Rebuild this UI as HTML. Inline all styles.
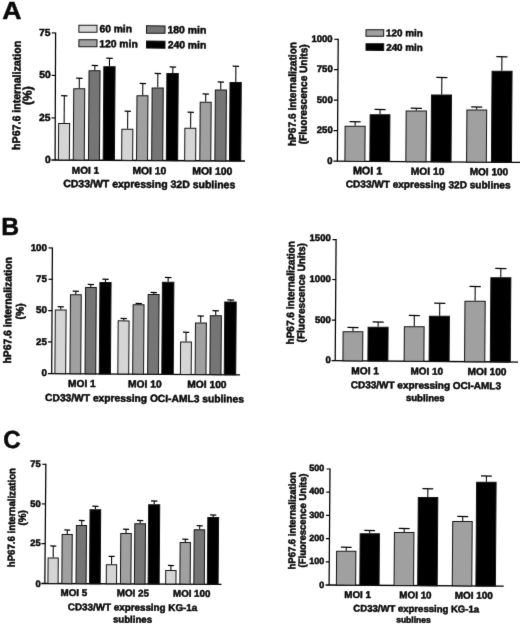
<!DOCTYPE html>
<html><head><meta charset="utf-8"><title>Figure</title>
<style>
html,body{margin:0;padding:0;background:#fff;}
body{width:520px;height:625px;overflow:hidden;}
svg{display:block;}
svg text{font-family:"Liberation Sans",Arial,Helvetica,sans-serif;font-weight:bold;fill:#0a0a0a;text-rendering:geometricPrecision;stroke:#0a0a0a;stroke-width:0.5px;}
</style></head><body>
<svg width="520" height="625" viewBox="0 0 520 625">
<defs><filter id="soft" color-interpolation-filters="sRGB" x="0" y="0" width="520" height="625" filterUnits="userSpaceOnUse"><feConvolveMatrix order="3" kernelMatrix="0.0064 0.0672 0.0064 0.0672 0.7056 0.0672 0.0064 0.0672 0.0064" divisor="1" edgeMode="duplicate" preserveAlpha="true"/></filter></defs>
<rect x="0" y="0" width="520" height="625" fill="#fff"/>
<g filter="url(#soft)">
<rect x="0" y="0" width="520" height="625" fill="#fff"/>
<text transform="translate(2.23,19.10) scale(1.075,1)" font-size="24.8">A</text>
<text transform="translate(1.29,235.20) scale(0.997,1)" font-size="24.8">B</text>
<text transform="translate(3.34,447.70) scale(0.973,1)" font-size="24.8">C</text>
<line x1="55.60" y1="32.40" x2="55.10" y2="160.30" stroke="#000" stroke-width="1.25"/>
<line x1="51.40" y1="159.98" x2="245.00" y2="161.00" stroke="#000" stroke-width="1.3"/>
<line x1="51.90" y1="32.97" x2="55.60" y2="33.00" stroke="#000" stroke-width="1.2"/>
<line x1="51.73" y1="75.47" x2="55.43" y2="75.50" stroke="#000" stroke-width="1.2"/>
<line x1="51.57" y1="117.97" x2="55.27" y2="118.00" stroke="#000" stroke-width="1.2"/>
<g transform="rotate(0.401 64.00 141.52)">
<line x1="64.00" y1="123.00" x2="64.00" y2="95.75" stroke="#000" stroke-width="1.05"/>
<line x1="60.82" y1="95.75" x2="67.18" y2="95.75" stroke="#000" stroke-width="1.25"/>
<rect x="58.50" y="123.50" width="11.00" height="36.55" fill="#d5d5d5" stroke="#141414" stroke-width="1"/>
</g>
<g transform="rotate(0.401 79.00 124.19)">
<line x1="79.00" y1="88.25" x2="79.00" y2="78.25" stroke="#000" stroke-width="1.05"/>
<line x1="75.82" y1="78.25" x2="82.18" y2="78.25" stroke="#000" stroke-width="1.25"/>
<rect x="73.50" y="88.75" width="11.00" height="71.38" fill="#a0a0a0" stroke="#141414" stroke-width="1"/>
</g>
<g transform="rotate(0.401 94.25 115.23)">
<line x1="94.50" y1="70.25" x2="94.50" y2="65.50" stroke="#000" stroke-width="1.05"/>
<line x1="91.32" y1="65.50" x2="97.68" y2="65.50" stroke="#000" stroke-width="1.25"/>
<rect x="88.75" y="70.75" width="11.00" height="89.46" fill="#757575" stroke="#141414" stroke-width="1"/>
</g>
<g transform="rotate(0.401 109.12 113.27)">
<line x1="109.12" y1="66.25" x2="109.12" y2="58.25" stroke="#000" stroke-width="1.05"/>
<line x1="105.88" y1="58.25" x2="112.37" y2="58.25" stroke="#000" stroke-width="1.25"/>
<rect x="103.50" y="66.75" width="11.25" height="93.53" fill="#000" stroke="#141414" stroke-width="1"/>
</g>
<g transform="rotate(0.401 127.25 144.56)">
<line x1="127.50" y1="128.75" x2="127.50" y2="111.25" stroke="#000" stroke-width="1.05"/>
<line x1="124.32" y1="111.25" x2="130.68" y2="111.25" stroke="#000" stroke-width="1.25"/>
<rect x="121.75" y="129.25" width="11.00" height="31.13" fill="#d5d5d5" stroke="#141414" stroke-width="1"/>
</g>
<g transform="rotate(0.401 142.25 127.85)">
<line x1="142.50" y1="95.25" x2="142.50" y2="83.50" stroke="#000" stroke-width="1.05"/>
<line x1="139.32" y1="83.50" x2="145.68" y2="83.50" stroke="#000" stroke-width="1.25"/>
<rect x="136.75" y="95.75" width="11.00" height="64.71" fill="#a0a0a0" stroke="#141414" stroke-width="1"/>
</g>
<g transform="rotate(0.401 157.45 124.02)">
<line x1="157.50" y1="87.50" x2="157.50" y2="73.50" stroke="#000" stroke-width="1.05"/>
<line x1="154.29" y1="73.50" x2="160.71" y2="73.50" stroke="#000" stroke-width="1.25"/>
<rect x="151.90" y="88.00" width="11.10" height="72.54" fill="#757575" stroke="#141414" stroke-width="1"/>
</g>
<g transform="rotate(0.401 172.27 116.81)">
<line x1="172.50" y1="73.00" x2="172.50" y2="67.00" stroke="#000" stroke-width="1.05"/>
<line x1="169.23" y1="67.00" x2="175.77" y2="67.00" stroke="#000" stroke-width="1.25"/>
<rect x="166.60" y="73.50" width="11.35" height="87.12" fill="#000" stroke="#141414" stroke-width="1"/>
</g>
<g transform="rotate(0.401 190.25 144.23)">
<line x1="190.50" y1="127.75" x2="190.50" y2="112.25" stroke="#000" stroke-width="1.05"/>
<line x1="187.32" y1="112.25" x2="193.68" y2="112.25" stroke="#000" stroke-width="1.25"/>
<rect x="184.75" y="128.25" width="11.00" height="32.46" fill="#d5d5d5" stroke="#141414" stroke-width="1"/>
</g>
<g transform="rotate(0.401 205.50 131.27)">
<line x1="205.50" y1="101.75" x2="205.50" y2="94.00" stroke="#000" stroke-width="1.05"/>
<line x1="202.32" y1="94.00" x2="208.68" y2="94.00" stroke="#000" stroke-width="1.25"/>
<rect x="200.00" y="102.25" width="11.00" height="58.54" fill="#a0a0a0" stroke="#141414" stroke-width="1"/>
</g>
<g transform="rotate(0.401 220.65 125.19)">
<line x1="220.50" y1="89.50" x2="220.50" y2="82.00" stroke="#000" stroke-width="1.05"/>
<line x1="217.29" y1="82.00" x2="223.71" y2="82.00" stroke="#000" stroke-width="1.25"/>
<rect x="215.10" y="90.00" width="11.10" height="70.87" fill="#757575" stroke="#141414" stroke-width="1"/>
</g>
<g transform="rotate(0.401 235.38 121.47)">
<line x1="235.50" y1="82.00" x2="235.50" y2="66.25" stroke="#000" stroke-width="1.05"/>
<line x1="232.25" y1="66.25" x2="238.75" y2="66.25" stroke="#000" stroke-width="1.25"/>
<rect x="229.75" y="82.50" width="11.25" height="78.45" fill="#000" stroke="#141414" stroke-width="1"/>
</g>
<text transform="translate(39.12,36.09) scale(1,1.0)" font-size="10.30">75</text>
<text transform="translate(39.23,78.39) scale(1,1.0)" font-size="10.30">50</text>
<text transform="translate(39.12,120.89) scale(1,1.0)" font-size="10.30">25</text>
<text transform="translate(44.94,163.19) scale(1,1.0)" font-size="10.30">0</text>
<text transform="rotate(0.401 17.40 95.35) translate(20.40,149.89) rotate(-90) scale(1,1.05)" font-size="10.61">hP67.6 internalization</text>
<text transform="rotate(0.401 28.60 95.65) translate(31.60,104.94) rotate(-90) scale(1,1.05)" font-size="11.99">(%)</text>
<text transform="rotate(0.401 85.62 170.75) translate(71.85,173.75) scale(1,1.0)" font-size="9.98">MOI 1</text>
<text transform="rotate(0.401 149.55 171.20) translate(132.43,174.20) scale(1,1.0)" font-size="10.35">MOI 10</text>
<text transform="rotate(0.401 212.50 171.64) translate(192.32,174.64) scale(1,1.0)" font-size="10.44">MOI 100</text>
<text transform="rotate(0.401 149.40 184.70) translate(63.18,187.70) scale(1,1.0)" font-size="10.51">CD33/WT expressing 32D sublines</text>
<rect x="78.90" y="25.30" width="18.10" height="7.00" fill="#d5d5d5" stroke="#141414" stroke-width="1" transform="rotate(0.401 87.95 28.80)"/>
<rect x="78.90" y="39.70" width="18.10" height="7.10" fill="#a0a0a0" stroke="#141414" stroke-width="1" transform="rotate(0.401 87.95 43.25)"/>
<rect x="146.50" y="25.90" width="18.50" height="7.40" fill="#757575" stroke="#141414" stroke-width="1" transform="rotate(0.401 155.75 29.60)"/>
<rect x="146.50" y="41.10" width="18.50" height="7.00" fill="#000" stroke="#141414" stroke-width="1" transform="rotate(0.401 155.75 44.60)"/>
<text transform="rotate(0.401 115.60 29.30) translate(99.44,32.30) scale(1,1.0)" font-size="10.29">60 min</text>
<text transform="rotate(0.401 118.50 44.30) translate(99.18,47.30) scale(1,1.0)" font-size="10.37">120 min</text>
<text transform="rotate(0.401 186.95 30.40) translate(167.58,33.40) scale(1,1.0)" font-size="10.40">180 min</text>
<text transform="rotate(0.401 186.85 45.40) translate(167.69,48.40) scale(1,1.0)" font-size="10.37">240 min</text>
<line x1="338.20" y1="38.70" x2="337.40" y2="161.60" stroke="#000" stroke-width="1.25"/>
<line x1="333.40" y1="161.22" x2="520.00" y2="162.40" stroke="#000" stroke-width="1.3"/>
<line x1="334.20" y1="39.27" x2="338.20" y2="39.30" stroke="#000" stroke-width="1.2"/>
<line x1="334.00" y1="69.67" x2="338.00" y2="69.70" stroke="#000" stroke-width="1.2"/>
<line x1="333.80" y1="100.17" x2="337.80" y2="100.20" stroke="#000" stroke-width="1.2"/>
<line x1="333.60" y1="130.67" x2="337.60" y2="130.70" stroke="#000" stroke-width="1.2"/>
<g transform="rotate(0.401 355.00 143.56)">
<line x1="355.00" y1="125.75" x2="355.00" y2="121.75" stroke="#000" stroke-width="1.05"/>
<line x1="349.44" y1="121.75" x2="360.56" y2="121.75" stroke="#000" stroke-width="1.25"/>
<rect x="345.00" y="126.25" width="20.00" height="35.11" fill="#a0a0a0" stroke="#141414" stroke-width="1"/>
</g>
<g transform="rotate(0.401 379.88 137.88)">
<line x1="379.88" y1="114.25" x2="379.88" y2="109.50" stroke="#000" stroke-width="1.05"/>
<line x1="374.38" y1="109.50" x2="385.37" y2="109.50" stroke="#000" stroke-width="1.25"/>
<rect x="370.00" y="114.75" width="19.75" height="46.77" fill="#000" stroke="#141414" stroke-width="1"/>
</g>
<g transform="rotate(0.401 416.12 136.12)">
<line x1="416.12" y1="110.50" x2="416.12" y2="108.25" stroke="#000" stroke-width="1.05"/>
<line x1="410.49" y1="108.25" x2="421.76" y2="108.25" stroke="#000" stroke-width="1.25"/>
<rect x="406.00" y="111.00" width="20.25" height="50.75" fill="#a0a0a0" stroke="#141414" stroke-width="1"/>
</g>
<g transform="rotate(0.401 441.25 128.20)">
<line x1="441.50" y1="94.50" x2="441.50" y2="77.50" stroke="#000" stroke-width="1.05"/>
<line x1="435.94" y1="77.50" x2="447.06" y2="77.50" stroke="#000" stroke-width="1.25"/>
<rect x="431.25" y="95.00" width="20.00" height="66.90" fill="#000" stroke="#141414" stroke-width="1"/>
</g>
<g transform="rotate(0.401 476.62 135.81)">
<line x1="476.50" y1="109.50" x2="476.50" y2="107.00" stroke="#000" stroke-width="1.05"/>
<line x1="471.00" y1="107.00" x2="482.00" y2="107.00" stroke="#000" stroke-width="1.25"/>
<rect x="466.75" y="110.00" width="19.75" height="52.13" fill="#a0a0a0" stroke="#141414" stroke-width="1"/>
</g>
<g transform="rotate(0.401 501.75 116.52)">
<line x1="501.50" y1="70.75" x2="501.50" y2="56.75" stroke="#000" stroke-width="1.05"/>
<line x1="495.94" y1="56.75" x2="507.06" y2="56.75" stroke="#000" stroke-width="1.25"/>
<rect x="491.75" y="71.25" width="20.00" height="91.04" fill="#000" stroke="#141414" stroke-width="1"/>
</g>
<text transform="translate(311.50,41.60) scale(1,1.0)" font-size="9.50">1000</text>
<text transform="translate(316.81,72.20) scale(1,1.0)" font-size="9.50">750</text>
<text transform="translate(316.81,102.70) scale(1,1.0)" font-size="9.50">500</text>
<text transform="translate(316.81,133.30) scale(1,1.0)" font-size="9.50">250</text>
<text transform="translate(327.36,163.80) scale(1,1.0)" font-size="9.50">0</text>
<text transform="rotate(0.401 293.00 93.85) translate(296.00,146.06) rotate(-90) scale(1,1.05)" font-size="10.15">hP67.6 internalization</text>
<text transform="rotate(0.401 303.90 94.20) translate(306.90,144.26) rotate(-90) scale(1,1.05)" font-size="10.12">(Fluorescence Units)</text>
<text transform="rotate(0.401 367.80 171.40) translate(352.90,174.40) scale(1,1.0)" font-size="10.80">MOI 1</text>
<text transform="rotate(0.401 427.75 171.82) translate(410.84,174.82) scale(1,1.0)" font-size="10.22">MOI 10</text>
<text transform="rotate(0.401 489.10 172.25) translate(469.65,175.25) scale(1,1.0)" font-size="10.07">MOI 100</text>
<text transform="rotate(0.401 428.30 185.00) translate(345.80,188.00) scale(1,1.0)" font-size="10.06">CD33/WT expressing 32D sublines</text>
<rect x="366.00" y="29.80" width="17.70" height="6.50" fill="#a0a0a0" stroke="#141414" stroke-width="1" transform="rotate(0.401 374.85 33.05)"/>
<rect x="366.00" y="43.80" width="17.70" height="6.60" fill="#000" stroke="#141414" stroke-width="1" transform="rotate(0.401 374.85 47.10)"/>
<text transform="rotate(0.401 404.45 33.30) translate(386.11,36.30) scale(1,1.0)" font-size="9.85">120 min</text>
<text transform="rotate(0.401 404.35 47.80) translate(386.21,50.80) scale(1,1.0)" font-size="9.82">240 min</text>
<line x1="52.40" y1="247.40" x2="51.70" y2="373.90" stroke="#000" stroke-width="1.25"/>
<line x1="47.90" y1="373.58" x2="240.00" y2="374.80" stroke="#000" stroke-width="1.3"/>
<line x1="48.60" y1="247.97" x2="52.40" y2="248.00" stroke="#000" stroke-width="1.2"/>
<line x1="48.43" y1="279.27" x2="52.23" y2="279.30" stroke="#000" stroke-width="1.2"/>
<line x1="48.25" y1="310.57" x2="52.05" y2="310.60" stroke="#000" stroke-width="1.2"/>
<line x1="48.08" y1="341.87" x2="51.88" y2="341.90" stroke="#000" stroke-width="1.2"/>
<g transform="rotate(0.401 60.50 341.58)">
<line x1="60.50" y1="309.50" x2="60.50" y2="306.75" stroke="#000" stroke-width="1.05"/>
<line x1="57.37" y1="306.75" x2="63.63" y2="306.75" stroke="#000" stroke-width="1.25"/>
<rect x="55.10" y="310.00" width="10.80" height="63.66" fill="#d5d5d5" stroke="#141414" stroke-width="1"/>
</g>
<g transform="rotate(0.401 75.60 334.00)">
<line x1="75.50" y1="294.25" x2="75.50" y2="291.25" stroke="#000" stroke-width="1.05"/>
<line x1="72.37" y1="291.25" x2="78.63" y2="291.25" stroke="#000" stroke-width="1.25"/>
<rect x="70.20" y="294.75" width="10.80" height="79.00" fill="#a0a0a0" stroke="#141414" stroke-width="1"/>
</g>
<g transform="rotate(0.401 90.65 330.42)">
<line x1="90.50" y1="287.00" x2="90.50" y2="284.50" stroke="#000" stroke-width="1.05"/>
<line x1="87.40" y1="284.50" x2="93.60" y2="284.50" stroke="#000" stroke-width="1.25"/>
<rect x="85.30" y="287.50" width="10.70" height="86.35" fill="#757575" stroke="#141414" stroke-width="1"/>
</g>
<g transform="rotate(0.401 105.17 327.97)">
<line x1="105.17" y1="282.00" x2="105.17" y2="279.25" stroke="#000" stroke-width="1.05"/>
<line x1="101.96" y1="279.25" x2="108.39" y2="279.25" stroke="#000" stroke-width="1.25"/>
<rect x="99.60" y="282.50" width="11.15" height="91.44" fill="#000" stroke="#141414" stroke-width="1"/>
</g>
<g transform="rotate(0.401 123.45 347.23)">
<line x1="123.50" y1="320.40" x2="123.50" y2="318.50" stroke="#000" stroke-width="1.05"/>
<line x1="120.35" y1="318.50" x2="126.65" y2="318.50" stroke="#000" stroke-width="1.25"/>
<rect x="118.00" y="320.90" width="10.90" height="53.16" fill="#d5d5d5" stroke="#141414" stroke-width="1"/>
</g>
<g transform="rotate(0.401 138.35 339.20)">
<line x1="138.50" y1="304.25" x2="138.50" y2="303.50" stroke="#000" stroke-width="1.05"/>
<line x1="135.35" y1="303.50" x2="141.65" y2="303.50" stroke="#000" stroke-width="1.25"/>
<rect x="132.90" y="304.75" width="10.90" height="69.40" fill="#a0a0a0" stroke="#141414" stroke-width="1"/>
</g>
<g transform="rotate(0.401 153.35 334.12)">
<line x1="153.50" y1="294.00" x2="153.50" y2="292.50" stroke="#000" stroke-width="1.05"/>
<line x1="150.35" y1="292.50" x2="156.65" y2="292.50" stroke="#000" stroke-width="1.25"/>
<rect x="147.90" y="294.50" width="10.90" height="79.75" fill="#757575" stroke="#141414" stroke-width="1"/>
</g>
<g transform="rotate(0.401 167.82 328.05)">
<line x1="167.82" y1="281.75" x2="167.82" y2="277.50" stroke="#000" stroke-width="1.05"/>
<line x1="164.53" y1="277.50" x2="171.12" y2="277.50" stroke="#000" stroke-width="1.25"/>
<rect x="162.10" y="282.25" width="11.45" height="92.09" fill="#000" stroke="#141414" stroke-width="1"/>
</g>
<g transform="rotate(0.401 185.90 357.98)">
<line x1="185.90" y1="341.50" x2="185.90" y2="332.25" stroke="#000" stroke-width="1.05"/>
<line x1="182.77" y1="332.25" x2="189.03" y2="332.25" stroke="#000" stroke-width="1.25"/>
<rect x="180.50" y="342.00" width="10.80" height="32.46" fill="#d5d5d5" stroke="#141414" stroke-width="1"/>
</g>
<g transform="rotate(0.401 200.75 348.52)">
<line x1="200.50" y1="322.50" x2="200.50" y2="316.00" stroke="#000" stroke-width="1.05"/>
<line x1="197.35" y1="316.00" x2="203.65" y2="316.00" stroke="#000" stroke-width="1.25"/>
<rect x="195.30" y="323.00" width="10.90" height="51.55" fill="#a0a0a0" stroke="#141414" stroke-width="1"/>
</g>
<g transform="rotate(0.401 215.65 344.95)">
<line x1="215.50" y1="315.25" x2="215.50" y2="310.75" stroke="#000" stroke-width="1.05"/>
<line x1="212.29" y1="310.75" x2="218.71" y2="310.75" stroke="#000" stroke-width="1.25"/>
<rect x="210.10" y="315.75" width="11.10" height="58.89" fill="#757575" stroke="#141414" stroke-width="1"/>
</g>
<g transform="rotate(0.401 230.22 338.12)">
<line x1="230.50" y1="301.50" x2="230.50" y2="300.00" stroke="#000" stroke-width="1.05"/>
<line x1="227.20" y1="300.00" x2="233.80" y2="300.00" stroke="#000" stroke-width="1.25"/>
<rect x="224.50" y="302.00" width="11.45" height="72.74" fill="#000" stroke="#141414" stroke-width="1"/>
</g>
<text transform="translate(30.63,250.61) scale(1,1.0)" font-size="9.80">100</text>
<text transform="translate(35.97,281.91) scale(1,1.0)" font-size="9.80">75</text>
<text transform="translate(36.06,313.21) scale(1,1.0)" font-size="9.80">50</text>
<text transform="translate(35.97,344.61) scale(1,1.0)" font-size="9.80">25</text>
<text transform="translate(41.50,376.41) scale(1,1.0)" font-size="9.80">0</text>
<text transform="rotate(0.401 8.40 310.25) translate(11.40,363.57) rotate(-90) scale(1,1.05)" font-size="10.37">hP67.6 internalization</text>
<text transform="rotate(0.401 20.60 311.35) translate(23.60,319.37) rotate(-90) scale(1,1.05)" font-size="10.34">(%)</text>
<text transform="rotate(0.401 82.12 384.00) translate(68.09,387.00) scale(1,1.0)" font-size="10.17">MOI 1</text>
<text transform="rotate(0.401 145.00 384.44) translate(128.09,387.44) scale(1,1.0)" font-size="10.22">MOI 10</text>
<text transform="rotate(0.401 207.12 384.88) translate(187.33,387.88) scale(1,1.0)" font-size="10.24">MOI 100</text>
<text transform="rotate(0.401 144.62 398.80) translate(45.09,401.80) scale(1,1.0)" font-size="10.26">CD33/WT expressing OCI-AML3 sublines</text>
<line x1="336.10" y1="239.05" x2="335.20" y2="361.00" stroke="#000" stroke-width="1.25"/>
<line x1="331.60" y1="360.67" x2="518.00" y2="362.05" stroke="#000" stroke-width="1.3"/>
<line x1="332.50" y1="239.62" x2="336.10" y2="239.65" stroke="#000" stroke-width="1.2"/>
<line x1="332.20" y1="279.52" x2="335.80" y2="279.55" stroke="#000" stroke-width="1.2"/>
<line x1="331.90" y1="320.07" x2="335.50" y2="320.10" stroke="#000" stroke-width="1.2"/>
<g transform="rotate(0.401 352.88 346.04)">
<line x1="352.88" y1="331.25" x2="352.88" y2="327.50" stroke="#000" stroke-width="1.05"/>
<line x1="347.38" y1="327.50" x2="358.37" y2="327.50" stroke="#000" stroke-width="1.25"/>
<rect x="343.00" y="331.75" width="19.75" height="29.08" fill="#a0a0a0" stroke="#141414" stroke-width="1"/>
</g>
<g transform="rotate(0.401 378.00 343.88)">
<line x1="378.00" y1="326.75" x2="378.00" y2="322.00" stroke="#000" stroke-width="1.05"/>
<line x1="372.44" y1="322.00" x2="383.56" y2="322.00" stroke="#000" stroke-width="1.25"/>
<rect x="368.00" y="327.25" width="20.00" height="33.77" fill="#000" stroke="#141414" stroke-width="1"/>
</g>
<g transform="rotate(0.401 414.12 343.77)">
<line x1="414.12" y1="326.25" x2="414.12" y2="315.50" stroke="#000" stroke-width="1.05"/>
<line x1="408.63" y1="315.50" x2="419.62" y2="315.50" stroke="#000" stroke-width="1.25"/>
<rect x="404.25" y="326.75" width="19.75" height="34.53" fill="#a0a0a0" stroke="#141414" stroke-width="1"/>
</g>
<g transform="rotate(0.401 439.25 338.61)">
<line x1="439.50" y1="315.75" x2="439.50" y2="303.25" stroke="#000" stroke-width="1.05"/>
<line x1="433.94" y1="303.25" x2="445.06" y2="303.25" stroke="#000" stroke-width="1.25"/>
<rect x="429.25" y="316.25" width="20.00" height="45.22" fill="#000" stroke="#141414" stroke-width="1"/>
</g>
<g transform="rotate(0.401 474.88 331.24)">
<line x1="474.88" y1="300.75" x2="474.88" y2="286.50" stroke="#000" stroke-width="1.05"/>
<line x1="469.24" y1="286.50" x2="480.51" y2="286.50" stroke="#000" stroke-width="1.25"/>
<rect x="464.75" y="301.25" width="20.25" height="60.48" fill="#a0a0a0" stroke="#141414" stroke-width="1"/>
</g>
<g transform="rotate(0.401 500.58 319.59)">
<line x1="500.50" y1="277.25" x2="500.50" y2="268.50" stroke="#000" stroke-width="1.05"/>
<line x1="494.95" y1="268.50" x2="506.05" y2="268.50" stroke="#000" stroke-width="1.25"/>
<rect x="490.60" y="277.75" width="19.95" height="84.17" fill="#000" stroke="#141414" stroke-width="1"/>
</g>
<text transform="translate(309.59,241.10) scale(1,1.0)" font-size="9.50">1500</text>
<text transform="translate(309.59,282.40) scale(1,1.0)" font-size="9.50">1000</text>
<text transform="translate(314.91,322.80) scale(1,1.0)" font-size="9.50">500</text>
<text transform="translate(325.46,363.10) scale(1,1.0)" font-size="9.50">0</text>
<text transform="rotate(0.401 291.20 292.70) translate(294.20,344.45) rotate(-90) scale(1,1.05)" font-size="10.06">hP67.6 internalization</text>
<text transform="rotate(0.401 301.80 292.70) translate(304.80,342.45) rotate(-90) scale(1,1.05)" font-size="10.06">(Fluorescence Units)</text>
<text transform="rotate(0.401 365.38 371.25) translate(351.34,374.25) scale(1,1.0)" font-size="10.17">MOI 1</text>
<text transform="rotate(0.401 427.02 371.68) translate(410.61,374.68) scale(1,1.0)" font-size="9.92">MOI 10</text>
<text transform="rotate(0.401 487.23 372.10) translate(467.54,375.10) scale(1,1.0)" font-size="10.19">MOI 100</text>
<text transform="rotate(0.401 426.00 385.70) translate(350.85,388.70) scale(1,1.0)" font-size="9.98">CD33/WT expressing OCI-AML3</text>
<text transform="rotate(0.401 425.32 398.20) translate(405.91,401.20) scale(1,1.0)" font-size="9.57">sublines</text>
<line x1="45.86" y1="463.70" x2="44.85" y2="583.80" stroke="#000" stroke-width="1.25"/>
<line x1="41.25" y1="583.48" x2="221.50" y2="584.30" stroke="#000" stroke-width="1.3"/>
<line x1="42.25" y1="464.27" x2="45.85" y2="464.30" stroke="#000" stroke-width="1.2"/>
<line x1="41.92" y1="503.97" x2="45.52" y2="504.00" stroke="#000" stroke-width="1.2"/>
<line x1="41.58" y1="543.67" x2="45.18" y2="543.70" stroke="#000" stroke-width="1.2"/>
<g transform="rotate(0.401 53.10 570.52)">
<line x1="53.10" y1="557.50" x2="53.10" y2="546.00" stroke="#000" stroke-width="1.05"/>
<line x1="50.13" y1="546.00" x2="56.07" y2="546.00" stroke="#000" stroke-width="1.25"/>
<rect x="48.00" y="558.00" width="10.20" height="25.54" fill="#d5d5d5" stroke="#141414" stroke-width="1"/>
</g>
<g transform="rotate(0.401 67.05 558.80)">
<line x1="67.05" y1="534.00" x2="67.05" y2="530.00" stroke="#000" stroke-width="1.05"/>
<line x1="64.11" y1="530.00" x2="69.99" y2="530.00" stroke="#000" stroke-width="1.25"/>
<rect x="62.00" y="534.50" width="10.10" height="49.10" fill="#a0a0a0" stroke="#141414" stroke-width="1"/>
</g>
<g transform="rotate(0.401 81.25 554.33)">
<line x1="81.50" y1="525.00" x2="81.50" y2="520.50" stroke="#000" stroke-width="1.05"/>
<line x1="78.56" y1="520.50" x2="84.44" y2="520.50" stroke="#000" stroke-width="1.25"/>
<rect x="76.20" y="525.50" width="10.10" height="58.16" fill="#757575" stroke="#141414" stroke-width="1"/>
</g>
<g transform="rotate(0.401 95.12 546.49)">
<line x1="95.12" y1="509.25" x2="95.12" y2="506.25" stroke="#000" stroke-width="1.05"/>
<line x1="92.04" y1="506.25" x2="98.21" y2="506.25" stroke="#000" stroke-width="1.25"/>
<rect x="89.80" y="509.75" width="10.65" height="73.98" fill="#000" stroke="#141414" stroke-width="1"/>
</g>
<g transform="rotate(0.401 111.45 574.03)">
<line x1="111.50" y1="564.25" x2="111.50" y2="556.40" stroke="#000" stroke-width="1.05"/>
<line x1="108.51" y1="556.40" x2="114.49" y2="556.40" stroke="#000" stroke-width="1.25"/>
<rect x="106.30" y="564.75" width="10.30" height="19.05" fill="#d5d5d5" stroke="#141414" stroke-width="1"/>
</g>
<g transform="rotate(0.401 125.85 558.43)">
<line x1="125.85" y1="533.00" x2="125.85" y2="529.25" stroke="#000" stroke-width="1.05"/>
<line x1="122.80" y1="529.25" x2="128.90" y2="529.25" stroke="#000" stroke-width="1.25"/>
<rect x="120.60" y="533.50" width="10.50" height="50.37" fill="#a0a0a0" stroke="#141414" stroke-width="1"/>
</g>
<g transform="rotate(0.401 139.95 553.59)">
<line x1="139.95" y1="523.25" x2="139.95" y2="520.50" stroke="#000" stroke-width="1.05"/>
<line x1="136.85" y1="520.50" x2="143.05" y2="520.50" stroke="#000" stroke-width="1.25"/>
<rect x="134.60" y="523.75" width="10.70" height="60.18" fill="#757575" stroke="#141414" stroke-width="1"/>
</g>
<g transform="rotate(0.401 153.93 544.12)">
<line x1="153.93" y1="504.25" x2="153.93" y2="501.00" stroke="#000" stroke-width="1.05"/>
<line x1="150.73" y1="501.00" x2="157.12" y2="501.00" stroke="#000" stroke-width="1.25"/>
<rect x="148.40" y="504.75" width="11.05" height="79.24" fill="#000" stroke="#141414" stroke-width="1"/>
</g>
<g transform="rotate(0.401 170.85 577.04)">
<line x1="170.85" y1="570.00" x2="170.85" y2="565.50" stroke="#000" stroke-width="1.05"/>
<line x1="167.86" y1="565.50" x2="173.84" y2="565.50" stroke="#000" stroke-width="1.25"/>
<rect x="165.70" y="570.50" width="10.30" height="13.57" fill="#d5d5d5" stroke="#141414" stroke-width="1"/>
</g>
<g transform="rotate(0.401 185.15 563.07)">
<line x1="185.15" y1="542.00" x2="185.15" y2="539.25" stroke="#000" stroke-width="1.05"/>
<line x1="182.16" y1="539.25" x2="188.14" y2="539.25" stroke="#000" stroke-width="1.25"/>
<rect x="180.00" y="542.50" width="10.30" height="41.64" fill="#a0a0a0" stroke="#141414" stroke-width="1"/>
</g>
<g transform="rotate(0.401 199.25 556.72)">
<line x1="199.50" y1="529.25" x2="199.50" y2="525.75" stroke="#000" stroke-width="1.05"/>
<line x1="196.45" y1="525.75" x2="202.55" y2="525.75" stroke="#000" stroke-width="1.25"/>
<rect x="194.00" y="529.75" width="10.50" height="54.45" fill="#757575" stroke="#141414" stroke-width="1"/>
</g>
<g transform="rotate(0.401 212.97 550.63)">
<line x1="212.97" y1="517.00" x2="212.97" y2="515.00" stroke="#000" stroke-width="1.05"/>
<line x1="209.86" y1="515.00" x2="216.09" y2="515.00" stroke="#000" stroke-width="1.25"/>
<rect x="207.60" y="517.50" width="10.75" height="66.76" fill="#000" stroke="#141414" stroke-width="1"/>
</g>
<text transform="translate(30.20,466.97) scale(1,1.0)" font-size="9.40">75</text>
<text transform="translate(30.29,506.67) scale(1,1.0)" font-size="9.40">50</text>
<text transform="translate(30.20,546.37) scale(1,1.0)" font-size="9.40">25</text>
<text transform="translate(35.51,586.57) scale(1,1.0)" font-size="9.40">0</text>
<text transform="rotate(0.401 12.00 517.50) translate(15.00,567.23) rotate(-90) scale(1,1.05)" font-size="9.67">hP67.6 internalization</text>
<text transform="rotate(0.401 22.80 517.85) translate(25.80,525.55) rotate(-90) scale(1,1.05)" font-size="9.93">(%)</text>
<text transform="rotate(0.401 74.12 593.00) translate(60.61,596.00) scale(1,1.0)" font-size="9.79">MOI 5</text>
<text transform="rotate(0.401 133.12 593.41) translate(116.86,596.41) scale(1,1.0)" font-size="9.80">MOI 25</text>
<text transform="rotate(0.401 191.88 593.82) translate(173.12,596.82) scale(1,1.0)" font-size="9.71">MOI 100</text>
<text transform="rotate(0.401 132.88 607.70) translate(67.86,610.70) scale(1,1.0)" font-size="9.84">CD33/WT expressing KG-1a</text>
<text transform="rotate(0.401 132.50 619.70) translate(112.91,622.70) scale(1,1.0)" font-size="9.66">sublines</text>
<line x1="330.00" y1="468.40" x2="329.10" y2="585.30" stroke="#000" stroke-width="1.25"/>
<line x1="325.60" y1="584.98" x2="503.75" y2="586.10" stroke="#000" stroke-width="1.3"/>
<line x1="326.50" y1="468.98" x2="330.00" y2="469.00" stroke="#000" stroke-width="1.2"/>
<line x1="326.32" y1="492.18" x2="329.82" y2="492.20" stroke="#000" stroke-width="1.2"/>
<line x1="326.14" y1="515.38" x2="329.64" y2="515.40" stroke="#000" stroke-width="1.2"/>
<line x1="325.96" y1="538.58" x2="329.46" y2="538.60" stroke="#000" stroke-width="1.2"/>
<line x1="325.78" y1="561.78" x2="329.28" y2="561.80" stroke="#000" stroke-width="1.2"/>
<g transform="rotate(0.401 346.12 567.93)">
<line x1="346.12" y1="550.75" x2="346.12" y2="547.25" stroke="#000" stroke-width="1.05"/>
<line x1="340.76" y1="547.25" x2="351.49" y2="547.25" stroke="#000" stroke-width="1.25"/>
<rect x="336.50" y="551.25" width="19.25" height="33.86" fill="#a0a0a0" stroke="#141414" stroke-width="1"/>
</g>
<g transform="rotate(0.401 369.62 559.25)">
<line x1="369.50" y1="533.25" x2="369.50" y2="530.50" stroke="#000" stroke-width="1.05"/>
<line x1="364.13" y1="530.50" x2="374.87" y2="530.50" stroke="#000" stroke-width="1.25"/>
<rect x="360.00" y="533.75" width="19.25" height="51.51" fill="#000" stroke="#141414" stroke-width="1"/>
</g>
<g transform="rotate(0.401 404.00 558.74)">
<line x1="404.00" y1="532.00" x2="404.00" y2="528.50" stroke="#000" stroke-width="1.05"/>
<line x1="398.57" y1="528.50" x2="409.43" y2="528.50" stroke="#000" stroke-width="1.25"/>
<rect x="394.25" y="532.50" width="19.50" height="52.97" fill="#a0a0a0" stroke="#141414" stroke-width="1"/>
</g>
<g transform="rotate(0.401 427.75 541.31)">
<line x1="427.50" y1="497.00" x2="427.50" y2="488.75" stroke="#000" stroke-width="1.05"/>
<line x1="422.07" y1="488.75" x2="432.93" y2="488.75" stroke="#000" stroke-width="1.25"/>
<rect x="418.00" y="497.50" width="19.50" height="88.12" fill="#000" stroke="#141414" stroke-width="1"/>
</g>
<g transform="rotate(0.401 462.25 553.42)">
<line x1="462.50" y1="521.00" x2="462.50" y2="516.50" stroke="#000" stroke-width="1.05"/>
<line x1="457.07" y1="516.50" x2="467.93" y2="516.50" stroke="#000" stroke-width="1.25"/>
<rect x="452.50" y="521.50" width="19.50" height="64.34" fill="#a0a0a0" stroke="#141414" stroke-width="1"/>
</g>
<g transform="rotate(0.401 486.00 533.87)">
<line x1="486.00" y1="481.75" x2="486.00" y2="476.00" stroke="#000" stroke-width="1.05"/>
<line x1="480.57" y1="476.00" x2="491.43" y2="476.00" stroke="#000" stroke-width="1.25"/>
<rect x="476.25" y="482.25" width="19.50" height="103.74" fill="#000" stroke="#141414" stroke-width="1"/>
</g>
<text transform="translate(309.33,471.22) scale(1,1.0)" font-size="9.00">500</text>
<text transform="translate(309.33,494.42) scale(1,1.0)" font-size="9.00">400</text>
<text transform="translate(309.33,517.82) scale(1,1.0)" font-size="9.00">300</text>
<text transform="translate(309.33,541.02) scale(1,1.0)" font-size="9.00">200</text>
<text transform="translate(309.33,564.12) scale(1,1.0)" font-size="9.00">100</text>
<text transform="translate(319.32,587.72) scale(1,1.0)" font-size="9.00">0</text>
<text transform="rotate(0.401 292.50 520.65) translate(295.50,569.42) rotate(-90) scale(1,1.05)" font-size="9.48">hP67.6 internalization</text>
<text transform="rotate(0.401 302.90 520.50) translate(305.90,567.43) rotate(-90) scale(1,1.05)" font-size="9.49">(Fluorescence Units)</text>
<text transform="rotate(0.401 357.88 595.00) translate(344.36,598.00) scale(1,1.0)" font-size="9.79">MOI 1</text>
<text transform="rotate(0.401 415.62 595.40) translate(399.36,598.40) scale(1,1.0)" font-size="9.83">MOI 10</text>
<text transform="rotate(0.401 474.00 595.81) translate(454.86,598.81) scale(1,1.0)" font-size="9.91">MOI 100</text>
<text transform="rotate(0.401 416.50 609.00) translate(353.37,612.00) scale(1,1.0)" font-size="9.55">CD33/WT expressing KG-1a</text>
<text transform="rotate(0.401 413.50 619.70) translate(396.20,622.70) scale(1,1.0)" font-size="8.53">sublines</text>
</g>
</svg>
</body></html>
